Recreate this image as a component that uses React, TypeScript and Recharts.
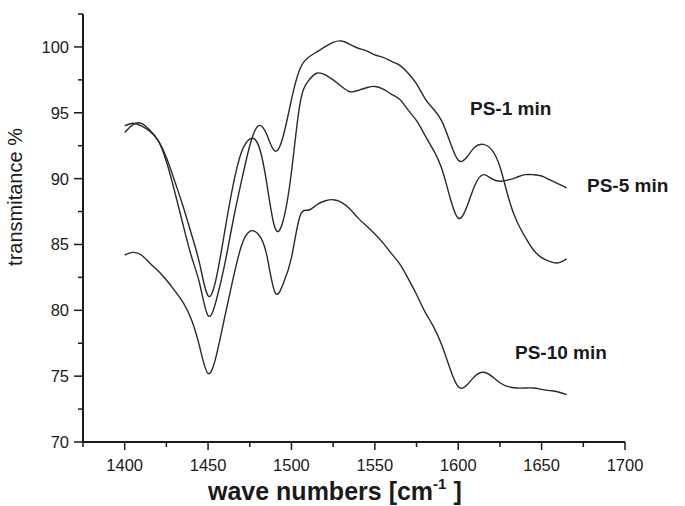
import React from 'react';
import { LineChart, Line, XAxis, YAxis } from 'recharts';

// wave numbers (cm-1) shared by all three spectra
const waveNumbers = [
  1400, 1405, 1410, 1415, 1420, 1425, 1430, 1435, 1440, 1445,
  1450, 1455, 1460, 1465, 1470, 1475, 1480, 1485, 1490, 1495,
  1500, 1505, 1510, 1515, 1520, 1525, 1530, 1535, 1540, 1545,
  1550, 1555, 1560, 1565, 1570, 1575, 1580, 1585, 1590, 1595,
  1600, 1605, 1610, 1615, 1620, 1625, 1630, 1635, 1640, 1645,
  1650, 1655, 1660, 1665,
];

const ps1 = [
  93.5, 94.1, 94.2, 93.7, 92.9, 91.3, 89.0, 86.5, 84.1, 82.0,
  79.6, 80.8, 83.5, 86.8, 89.8, 92.5, 94.0, 93.4, 92.1, 93.2,
  96.0, 98.3, 99.2, 99.6, 100.0, 100.35, 100.45, 100.2, 99.9, 99.7,
  99.4, 99.2, 98.9, 98.6, 98.0, 97.2, 96.1, 95.3, 94.4, 92.8,
  91.4, 91.6, 92.4, 92.6, 92.2, 90.9, 88.6, 86.8, 85.6, 84.6,
  84.0, 83.7, 83.6, 83.9,
];

const ps5 = [
  94.0, 94.2, 94.0, 93.6, 92.9, 91.6, 89.8, 87.9, 85.8, 83.5,
  81.1, 82.5, 86.0, 89.5, 92.0, 93.0, 92.6, 89.8, 86.3, 86.8,
  90.5, 95.6, 97.4, 98.0, 97.9, 97.5, 97.0, 96.6, 96.7, 96.9,
  97.0, 96.8, 96.4, 96.0, 95.2, 94.4, 93.3, 92.2, 90.8, 88.6,
  87.0, 87.8, 89.5, 90.3, 90.0, 89.8, 89.9, 90.1, 90.3, 90.3,
  90.2, 89.9, 89.6, 89.3,
];

const ps10 = [
  84.2, 84.4, 84.2, 83.6, 83.0, 82.3, 81.5, 80.6, 79.3, 77.2,
  75.2, 76.6, 79.5, 82.4, 84.9, 86.0, 85.8, 84.3, 81.4, 82.0,
  84.0, 87.1, 87.6, 88.0, 88.3, 88.4, 88.2, 87.7, 87.0, 86.4,
  85.8, 85.1, 84.3, 83.5, 82.4, 81.2, 79.9, 78.8, 77.4, 75.6,
  74.2, 74.3, 75.0, 75.3, 75.0, 74.5, 74.2, 74.1, 74.1, 74.1,
  74.0, 73.9, 73.8, 73.6,
];

const xTicks = [1375, 1400, 1425, 1450, 1475, 1500, 1525, 1550, 1575, 1600, 1625, 1650, 1675, 1700];
const yTicks = [70, 72.5, 75, 77.5, 80, 82.5, 85, 87.5, 90, 92.5, 95, 97.5, 100, 102.5];

const rows = waveNumbers.map((wn, i) => ({ wn, ps1: ps1[i], ps5: ps5[i], ps10: ps10[i] }));

const INK = '#1a1a1a';
const FONT = 'Arial, "Liberation Sans", sans-serif';

const XTick = (props: any) => {
  const { x, y, payload } = props;
  const major = payload.value % 50 === 0;
  return (
    <g>
      <line x1={x} y1={y} x2={x} y2={y + (major ? 8 : 5)} stroke={INK} strokeWidth={1.5} />
      {major && (
        <text x={x} y={y + 29} textAnchor="middle" fontSize={16.5} fontFamily={FONT} fill={INK}>
          {payload.value}
        </text>
      )}
    </g>
  );
};

const YTick = (props: any) => {
  const { x, y, payload } = props;
  const major = payload.value % 5 === 0;
  return (
    <g>
      <line x1={x} y1={y} x2={x - (major ? 9 : 5)} y2={y} stroke={INK} strokeWidth={1.5} />
      {major && (
        <text x={x - 14} y={y + 6} textAnchor="end" fontSize={16.5} fontFamily={FONT} fill={INK}>
          {payload.value}
        </text>
      )}
    </g>
  );
};

export default function App() {
  return (
    <div style={{ position: 'absolute', left: 0, top: 0, width: 685, height: 506, background: '#fff' }}>
      <LineChart width={685} height={506} data={rows} margin={{ top: 14, right: 60, bottom: 0, left: 0 }}>
        <XAxis
          dataKey="wn"
          type="number"
          domain={[1375, 1700]}
          ticks={xTicks}
          interval={0}
          height={64}
          tickSize={0}
          tickMargin={0}
          tickLine={false}
          tick={<XTick />}
          axisLine={{ stroke: INK, strokeWidth: 2 }}
        />
        <YAxis
          type="number"
          domain={[70, 102.5]}
          ticks={yTicks}
          interval={0}
          width={83}
          tickSize={0}
          tickMargin={0}
          tickLine={false}
          tick={<YTick />}
          axisLine={{ stroke: INK, strokeWidth: 2 }}
        />
        <Line dataKey="ps1" name="PS-1 min" type="natural" stroke="#2a2a2a" strokeWidth={1.4} dot={false} activeDot={false} isAnimationActive={false} />
        <Line dataKey="ps5" name="PS-5 min" type="natural" stroke="#2a2a2a" strokeWidth={1.4} dot={false} activeDot={false} isAnimationActive={false} />
        <Line dataKey="ps10" name="PS-10 min" type="natural" stroke="#2a2a2a" strokeWidth={1.4} dot={false} activeDot={false} isAnimationActive={false} />
      </LineChart>
      <svg width={685} height={506} style={{ position: 'absolute', left: 0, top: 0, pointerEvents: 'none' }}>
        <g fontFamily={FONT} fill={INK}>
          <text x={470} y={115} fontSize={19} fontWeight="bold">PS-1 min</text>
          <text x={587} y={192} fontSize={19} fontWeight="bold">PS-5 min</text>
          <text x={515} y={359} fontSize={19} fontWeight="bold">PS-10 min</text>
          <text transform="translate(22,197) rotate(-90)" textAnchor="middle" fontSize={20}>
            transmitance %
          </text>
          <text x={208} y={500} fontSize={25} fontWeight="bold">
            wave numbers [cm
            <tspan fontSize={15} dy={-11}>-1</tspan>
            <tspan dy={11}> ]</tspan>
          </text>
        </g>
      </svg>
    </div>
  );
}
